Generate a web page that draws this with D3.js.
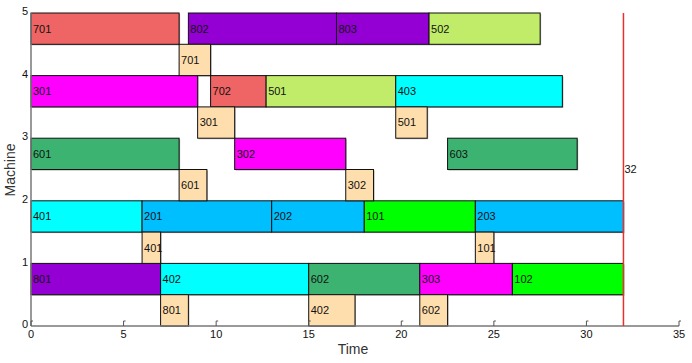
<!DOCTYPE html>
<html lang="en">
<head>
    <meta charset="UTF-8">
    <script src="https://d3js.org/d3.v7.min.js"></script>
    <title>Gantt</title>
</head>
<style>
    body { margin: 0; background: #fff; font-family: "Liberation Sans", Arial, sans-serif; }
</style>
<body>
    <div id="chart"></div>
    <script>
        // machine operations
        var opLabels   = ["701","802","803","502", "301","702","501","403", "601","302","603", "401","201","202","101","203", "801","402","602","303","102"];
        var opMachine  = [5,5,5,5, 4,4,4,4, 3,3,3, 2,2,2,2,2, 1,1,1,1,1];
        var opStart    = [0,8.5,16.5,21.5, 0,9.7,12.7,19.7, 0,11,22.5, 0,6,13,18,24, 0,7,15,21,26];
        var opEnd      = [8,16.5,21.5,27.5, 9,12.7,19.7,28.7, 8,17,29.5, 6,13,18,24,32, 7,15,21,26,32];

        // transport bars (drawn in lower half of the machine row)
        var trLabels  = ["701","301","501","601","302","401","101","801","402","602"];
        var trMachine = [5,4,4,3,3,2,2,1,1,1];
        var trStart   = [8,9,19.7,8,17,6,24,7,15,21];
        var trEnd     = [9.7,11,21.4,9.5,18.5,7,25,8.5,17.5,22.5];

        var jobColors = {"1":"#00ff00","2":"#00bfff","3":"#ff00ff","4":"#00ffff","5":"#c1ec6a","6":"#3cb371","7":"#ef6464","8":"#9400d3"};
        var makespan = 32;
        var xTicks = [0,5,10,15,20,25,30,35];
        var yTicks = [0,1,2,3,4,5];

        var width = 692, height = 363;
        var svg = d3.select("#chart").append("svg")
            .attr("width", width).attr("height", height);

        var x = d3.scaleLinear().domain([0,35]).range([31,679]);
        var y = d3.scaleLinear().domain([0,5]).range([326,13]);

        var ops = opLabels.map(function(d,i){
            return {label:d, m:opMachine[i], s:opStart[i], e:opEnd[i], top:opMachine[i], bot:opMachine[i]-0.5, fill:jobColors[d[0]]};
        });
        var trs = trLabels.map(function(d,i){
            return {label:d, m:trMachine[i], s:trStart[i], e:trEnd[i], top:trMachine[i]-0.5, bot:trMachine[i]-1, fill:"#ffdead"};
        });
        var all = ops.concat(trs);

        //shadows
        svg.append("g").selectAll("rect").data(all).join("rect")
            .attr("x", function(d){return x(d.s)+1})
            .attr("y", function(d){return y(d.top)+1})
            .attr("width", function(d){return x(d.e)-x(d.s)})
            .attr("height", function(d){return y(d.bot)-y(d.top)})
            .attr("fill","#aaa");

        //bars
        var bars = svg.append("g").selectAll("g").data(all).join("g");
        bars.append("rect")
            .attr("x", function(d){return x(d.s)})
            .attr("y", function(d){return y(d.top)})
            .attr("width", function(d){return x(d.e)-x(d.s)})
            .attr("height", function(d){return y(d.bot)-y(d.top)})
            .attr("fill", function(d){return d.fill})
            .attr("stroke","#111")
            .attr("stroke-width",1);
        bars.append("text")
            .attr("x", function(d){return x(d.s)+2})
            .attr("y", function(d){return (y(d.top)+y(d.bot))/2})
            .attr("dy","0.35em")
            .attr("font-size","11px")
            .attr("fill","#111")
            .text(function(d){return d.label});

        //axes
        svg.append("line")
            .attr("x1", x(0)).attr("x2", x(35))
            .attr("y1", y(0)).attr("y2", y(0))
            .attr("stroke","#777").attr("stroke-width",1.5);
        svg.append("line")
            .attr("x1", x(0)).attr("x2", x(0))
            .attr("y1", y(0)).attr("y2", y(5))
            .attr("stroke","#777").attr("stroke-width",1.5);

        var xt = svg.append("g").selectAll("g").data(xTicks).join("g");
        xt.append("path")
            .attr("d", function(d){return "M"+x(d)+","+y(0)+"V"+(y(0)-5)+"h2"})
            .attr("fill","none").attr("stroke","#555").attr("stroke-width",1);
        xt.append("text")
            .attr("x", function(d){return x(d)})
            .attr("y", y(0)+12)
            .attr("text-anchor","middle")
            .attr("font-size","11px")
            .attr("fill","#111")
            .text(function(d){return d});

        svg.append("g").selectAll("text").data(yTicks).join("text")
            .attr("x", x(0)-3)
            .attr("y", function(d){return y(d)})
            .attr("dy","0.2em")
            .attr("text-anchor","end")
            .attr("font-size","11px")
            .attr("fill","#111")
            .text(function(d){return d});

        svg.append("text")
            .attr("x", 353).attr("y", 354)
            .attr("text-anchor","middle")
            .attr("font-size","14px")
            .attr("fill","#333")
            .text("Time");
        svg.append("text")
            .attr("transform","translate(15,170) rotate(-90)")
            .attr("text-anchor","middle")
            .attr("font-size","14px")
            .attr("fill","#333")
            .text("Machine");

        //makespan line
        svg.append("line")
            .attr("x1", x(makespan)).attr("x2", x(makespan))
            .attr("y1", y(0)).attr("y2", y(5))
            .attr("stroke","#e8302f").attr("stroke-width",1.5);
        svg.append("text")
            .attr("x", x(makespan)+1)
            .attr("y", y(2.5))
            .attr("dy","0.35em")
            .attr("font-size","11px")
            .attr("fill","#111")
            .text(makespan);
    </script>
</body>
</html>
